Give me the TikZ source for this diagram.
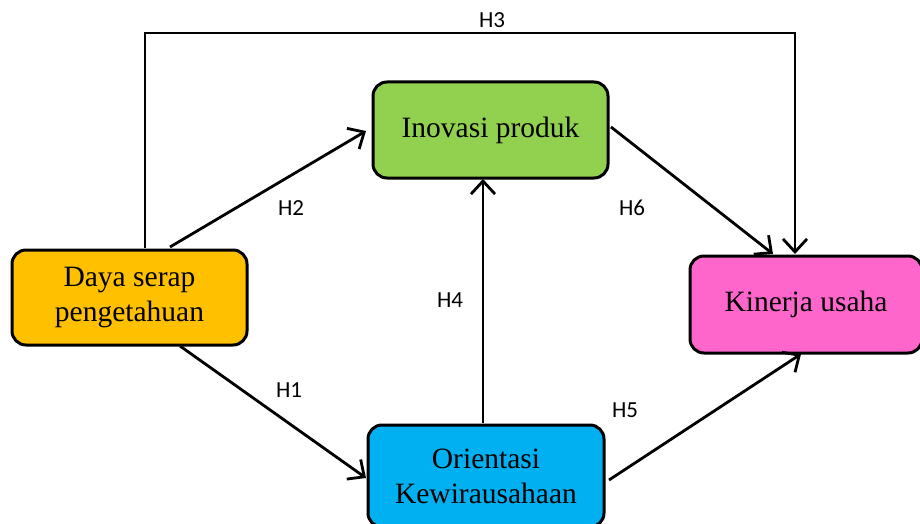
\documentclass[tikz,border=0pt]{standalone}
\usepackage{fontspec}
\setmainfont{Liberation Serif}
\newfontfamily\labfont{Carlito}
\usetikzlibrary{arrows.meta}
\definecolor{cgold}{HTML}{FFC000}
\definecolor{cgreen}{HTML}{92D050}
\definecolor{cpink}{HTML}{FF66CC}
\definecolor{cblue}{HTML}{00B0F0}
\begin{document}
\begin{tikzpicture}[x=1pt,y=-1pt,
  boxstyle/.style={draw=black,line width=3pt,rounded corners=14pt,inner sep=0pt,
    font=\fontsize{29.5}{35}\selectfont,align=center},
  conn/.style={line width=2.8pt,-{Straight Barb[length=13pt,width=24pt,line width=2.8pt]}},
  lab/.style={font=\labfont\fontsize{23}{26}\selectfont}]
\useasboundingbox (0,0) rectangle (920,524);
\node[boxstyle,fill=cgold,minimum width=235pt,minimum height=95pt] (daya) at (129.5,297.5) {Daya serap\\pengetahuan};
\node[boxstyle,fill=cgreen,minimum width=235pt,minimum height=96pt] (inov) at (490.5,130) {Inovasi produk};
\node[boxstyle,fill=cpink,minimum width=232pt,minimum height=97pt] (kin) at (806,304.5) {Kinerja usaha};
\node[boxstyle,fill=cblue,minimum width=236pt,minimum height=102pt] (ori) at (486,476) {Orientasi\\Kewirausahaan};
\coordinate (a2s) at (170,247);
\coordinate (a2e) at (366,131);
\draw[conn] (a2s) -- (a2e);
\coordinate (a1s) at (180,346);
\coordinate (a1e) at (366,478);
\draw[conn] (a1s) -- (a1e);
\coordinate (a4s) at (483,423);
\coordinate (a4e) at (483,179);
\draw[conn] (a4s) -- (a4e);
\coordinate (a6s) at (611,127);
\coordinate (a6e) at (773,254);
\draw[conn] (a6s) -- (a6e);
\coordinate (a5s) at (609,480);
\coordinate (a5e) at (801,354);
\draw[conn] (a5s) -- (a5e);
\coordinate (a3s) at (145,248);
\coordinate (a3e) at (795,254);
\draw[conn] (a3s) -- (145,33) -- (795,33) -- (a3e);
\node[lab] (h3) at (492,20) {H3};
\node[lab] (h2) at (291,208) {H2};
\node[lab] (h1) at (289,390) {H1};
\node[lab] (h4) at (450,300) {H4};
\node[lab] (h6) at (632,208) {H6};
\node[lab] (h5) at (625,410) {H5};
\end{tikzpicture}
\end{document}
